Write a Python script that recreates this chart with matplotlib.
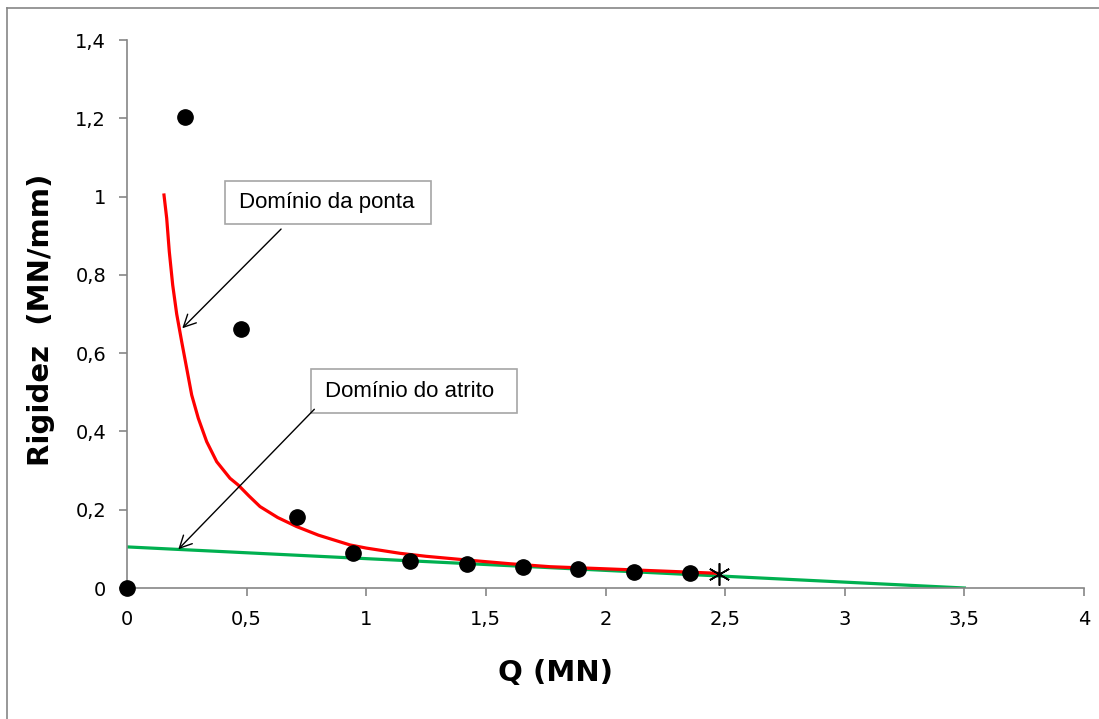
import numpy as np
import matplotlib
matplotlib.use('Agg')
import matplotlib.pyplot as plt
import matplotlib.patches as mpatches
from matplotlib.lines import Line2D

# measured points (Q in MN, rigidez in MN/mm)
q_pts = [0.0, 0.242, 0.477, 0.709, 0.943, 1.183, 1.42, 1.654, 1.886, 2.119, 2.353]
k_pts = [0.0, 1.203, 0.662, 0.182, 0.089, 0.069, 0.0605, 0.053, 0.0485, 0.042, 0.0375]

# ruptura (estrela)
q_rup = [2.474]
k_rup = [0.035]

# curva do dominio da ponta
q_ponta = [0.1546, 0.1659, 0.1768, 0.191, 0.2077, 0.2286, 0.2495, 0.2704, 0.298,
           0.3331, 0.3749, 0.4305, 0.465, 0.51, 0.556, 0.63, 0.709, 0.8, 0.932,
           1.0, 1.141, 1.25, 1.42, 1.6, 1.768, 2.0, 2.25, 2.471]
k_ponta = [1.004, 0.9446, 0.8592, 0.7741, 0.70, 0.6293, 0.5613, 0.4931, 0.4336,
           0.3738, 0.3227, 0.2803, 0.263, 0.235, 0.208, 0.18, 0.157, 0.135, 0.110,
           0.102, 0.0886, 0.081, 0.0715, 0.062, 0.0544, 0.049, 0.043, 0.0375]

# reta do dominio do atrito
q_atrito = [0.0, 3.5]
k_atrito = [0.105, 0.0]

xticks = [0, 0.5, 1, 1.5, 2, 2.5, 3, 3.5, 4]
yticks = [0, 0.2, 0.4, 0.6, 0.8, 1.0, 1.2, 1.4]

def fmt(v):
    s = ('%g' % v).replace('.', ',')
    return s

fig = plt.figure(figsize=(10.99, 7.19), dpi=100)
ax = fig.add_axes([127/1099, 1 - 588/719, (1084 - 127)/1099, (588 - 40)/719])

ax.plot(q_atrito, k_atrito, color='#00b050', lw=2.3, zorder=2)
ax.plot(q_ponta, k_ponta, color='#ff0000', lw=2.3, zorder=3)
ax.plot(q_pts, k_pts, 'o', color='black', ms=11, zorder=4, clip_on=False)
ax.plot(q_rup, k_rup, marker=(6, 2, 0), color='black', ms=16, mew=1.2,
        ls='none', zorder=5)

ax.set_xlim(0, 4)
ax.set_ylim(0, 1.4)
ax.set_xticks(xticks)
ax.set_yticks(yticks)
ax.set_xticklabels([fmt(v) for v in xticks])
ax.set_yticklabels([fmt(v) for v in yticks])

gray = '#868686'
for s in ['top', 'right']:
    ax.spines[s].set_visible(False)
for s in ['left', 'bottom']:
    ax.spines[s].set_color(gray)
    ax.spines[s].set_linewidth(1.2)
ax.tick_params(axis='both', colors=gray, labelcolor='black', length=6,
               width=1.2, labelsize=14, direction='out')
ax.tick_params(axis='y', pad=9)
ax.tick_params(axis='x', pad=10)

ax.set_xlabel('Q (MN)', fontsize=21, fontweight='bold')
ax.xaxis.set_label_coords(0.448, -0.13)
ax.set_ylabel('Rigidez  (MN/mm)', fontsize=21, fontweight='bold')
ax.yaxis.set_label_coords(-0.075, 0.489)

# caixas de texto com setas
def caixa(x0, y0, x1, y1, txt):
    r = mpatches.Rectangle((x0, y1), x1 - x0, y0 - y1, facecolor='white',
                           edgecolor='#a6a6a6', lw=1.2, zorder=6)
    ax.add_patch(r)
    ax.text(x0 + 0.058, (y0 + y1) / 2, txt, fontsize=16,
            family='Liberation Sans', va='center', ha='left', zorder=7)

caixa(0.4096, 1.0399, 1.2705, 0.930, 'Domínio da ponta')
caixa(0.769, 0.5588, 1.631, 0.4464, 'Domínio do atrito')

ax.annotate('', xy=(0.231, 0.6635), xytext=(0.644, 0.917),
            arrowprops=dict(arrowstyle='->', color='black', lw=1,
                            mutation_scale=22, shrinkA=0, shrinkB=0), zorder=8)
ax.annotate('', xy=(0.2144, 0.0989), xytext=(0.783, 0.4566),
            arrowprops=dict(arrowstyle='->', color='black', lw=1,
                            mutation_scale=22, shrinkA=0, shrinkB=0), zorder=8)

# borda da area do grafico
fig.add_artist(Line2D([7/1099, 1.0], [1 - 8/719, 1 - 8/719], color=gray, lw=1.2))
fig.add_artist(Line2D([7/1099, 7/1099], [0, 1 - 8/719], color=gray, lw=1.2))

fig.savefig('out.png', dpi=100)
